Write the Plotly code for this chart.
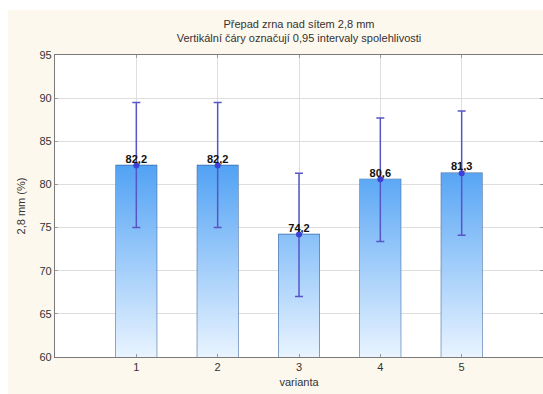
import plotly.graph_objects as go

# data
varianta = [1, 2, 3, 4, 5]
mean = [82.2, 82.2, 74.2, 80.6, 81.3]
upper = [89.5, 89.5, 81.3, 87.7, 88.5]
lower = [75.0, 75.0, 67.0, 73.4, 74.1]
y_ticks = [60, 65, 70, 75, 80, 85, 90, 95]

BAR_W = 0.5
Y_MIN = 60

fig = go.Figure()

# gradient fills of bars (built from data values)
for c, v in zip(varianta, mean):
    fig.add_trace(go.Scatter(
        x=[c - BAR_W / 2, c - BAR_W / 2, c + BAR_W / 2, c + BAR_W / 2, c - BAR_W / 2],
        y=[Y_MIN, v, v, Y_MIN, Y_MIN],
        mode="lines", line=dict(width=0), fill="toself",
        fillgradient=dict(type="vertical", start=60, stop=83,
                          colorscale=[[0, "#e9f4ff"], [1, "#4c9ff4"]]),
        hoverinfo="skip", showlegend=False,
    ))

# bar outlines
fig.add_trace(go.Bar(
    x=varianta, y=mean, width=BAR_W,
    marker=dict(color="rgba(0,0,0,0)", line=dict(color="#3f6aa5", width=1.2)),
    showlegend=False,
))

# means with 0.95 confidence intervals
fig.add_trace(go.Scatter(
    x=varianta, y=mean, mode="markers",
    marker=dict(symbol="circle", size=6, color="#3d3fd6"),
    error_y=dict(type="data", symmetric=False,
                 array=[u - m for u, m in zip(upper, mean)],
                 arrayminus=[m - l for m, l in zip(mean, lower)],
                 color="#5656c6", thickness=1.5, width=4),
    showlegend=False,
))

# value labels
fig.add_trace(go.Scatter(
    x=varianta, y=mean, mode="text",
    text=[f"{v:.1f}".replace(".", ",") for v in mean],
    textposition="top center",
    textfont=dict(family="Liberation Sans, Arial", size=11, color="#111111", weight="bold"),
    showlegend=False, hoverinfo="skip",
))

fig.update_layout(
    width=535, height=384,
    margin=dict(l=47, r=0, t=45, b=37),
    paper_bgcolor="#fdf8ed",
    plot_bgcolor="#ffffff",
    separators=", ",
    barmode="overlay",
    font=dict(family="Liberation Sans, Arial", size=11, color="#333333"),
    title=dict(
        text="Přepad zrna nad sítem 2,8 mm<br>Vertikální čáry označují 0,95 intervaly spolehlivosti",
        x=0.5, xref="paper", xanchor="center",
        y=1 - 17.5 / 384, yref="container", yanchor="middle",
        font=dict(family="Liberation Sans, Arial", size=11, color="#333333"),
    ),
    xaxis=dict(
        range=[0, 6], tickvals=varianta, ticktext=[str(v) for v in varianta],
        showgrid=True, gridcolor="#dedede", gridwidth=1,
        showline=True, linecolor="#7a7a7a", linewidth=1.2, mirror="ticks",
        ticks="inside", ticklen=3, tickcolor="#9a9a9a",
        title=dict(text="varianta", standoff=6, font=dict(size=11)),
        zeroline=False,
    ),
    yaxis=dict(
        range=[60, 95], tickvals=y_ticks,
        showgrid=True, gridcolor="#dedede", gridwidth=1,
        showline=True, linecolor="#7a7a7a", linewidth=1.2, mirror="ticks",
        ticks="inside", ticklen=3, tickcolor="#9a9a9a",
        title=dict(text="2,8 mm (%)", standoff=11, font=dict(size=11)),
        zeroline=False,
    ),
)

fig.write_html(
    "out.html",
    post_script="document.body.style.margin='10px 0 0 8px';"
                "document.body.style.overflow='hidden';"
                "document.documentElement.style.overflow='hidden';",
)
